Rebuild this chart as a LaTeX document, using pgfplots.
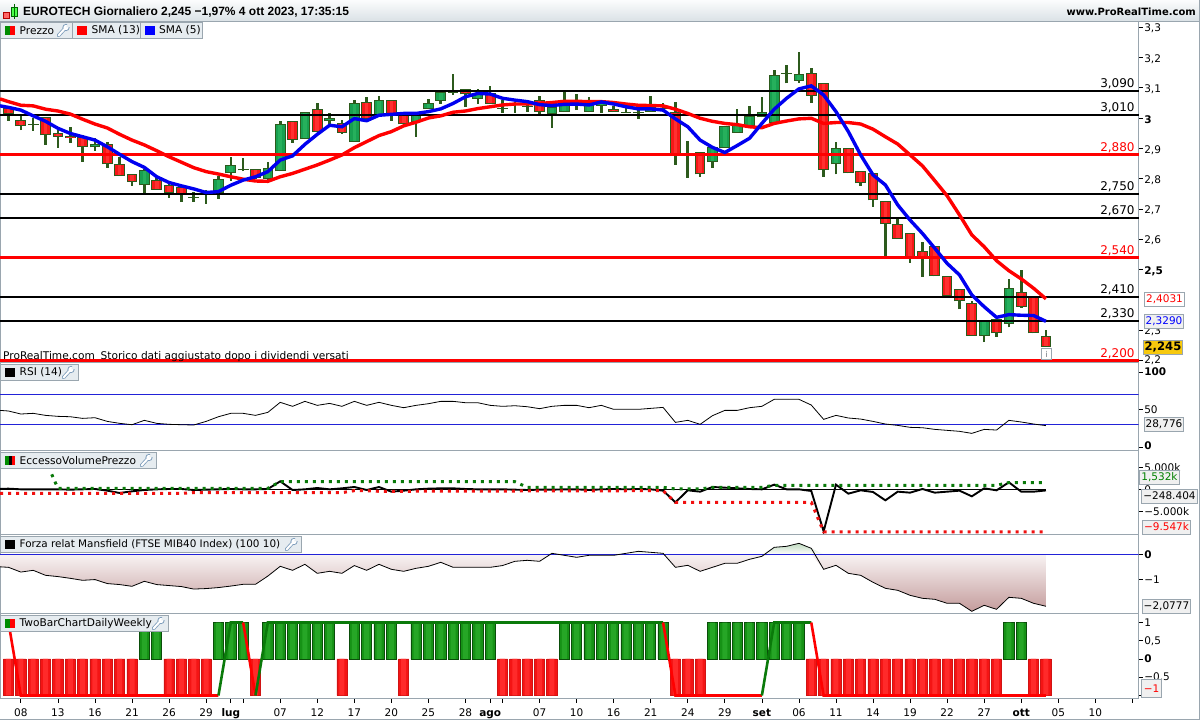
\documentclass[border=0pt]{standalone}
\usepackage{fontspec}
\setmainfont{DejaVu Sans}
\newfontfamily\titlefont{Liberation Sans}
\usepackage{pgfplots}
\usepackage{pgfplotstable}
\pgfplotsset{compat=1.18}
\usetikzlibrary{shadings}

\definecolor{frame}{HTML}{9AA6AF}
\definecolor{tab}{HTML}{E6ECF0}
\definecolor{wrenchblue}{HTML}{7E9DBB}
\definecolor{wick}{HTML}{2C5A1C}
\definecolor{upbody}{HTML}{18A050}
\definecolor{uplight}{HTML}{26B05C}
\definecolor{downbody}{HTML}{F51818}
\definecolor{downlight}{HTML}{FF3030}
\definecolor{linered}{HTML}{FF0000}
\definecolor{lineblue}{HTML}{0000F0}
\definecolor{thinblue}{HTML}{2222D8}
\definecolor{dotgreen}{HTML}{0A7A0A}
\definecolor{dotred}{HTML}{F01010}
\definecolor{gold}{HTML}{F7C90E}
\definecolor{bargreen}{HTML}{169216}
\definecolor{bargreenlight}{HTML}{26A626}
\definecolor{bargreenedge}{HTML}{0A4E0A}
\definecolor{barred}{HTML}{F41414}
\definecolor{barredlight}{HTML}{FF2A2A}
\definecolor{barrededge}{HTML}{D01414}
\definecolor{steplinegreen}{HTML}{0A7A0A}
\definecolor{rosetop}{HTML}{F8F3F3}
\definecolor{rosebottom}{HTML}{C49C9C}
\definecolor{mintop}{HTML}{BFDABF}

\newcommand{\fs}[1]{\fontsize{#1}{#1}\selectfont}

% open high low close, days with close >= open
\pgfplotstableread{
i o h l c
2 2.979 2.999 2.958 2.981
7 2.903 2.933 2.892 2.913
11 2.778 2.832 2.752 2.827
15 2.737 2.757 2.724 2.739
17 2.754 2.809 2.733 2.798
18 2.817 2.872 2.793 2.844
19 2.827 2.868 2.824 2.833
21 2.798 2.854 2.784 2.836
22 2.824 2.989 2.824 2.979
24 2.930 3.019 2.930 3.019
26 2.989 3.015 2.969 2.999
28 2.920 3.059 2.920 3.048
30 3.011 3.073 3.011 3.058
33 2.988 3.021 2.938 3.010
34 3.029 3.063 3.029 3.048
35 3.057 3.086 3.047 3.086
36 3.083 3.145 3.077 3.085
38 3.062 3.095 3.047 3.081
40 3.030 3.059 3.018 3.032
41 3.042 3.053 3.018 3.048
42 3.039 3.054 3.021 3.041
44 3.013 3.048 2.968 3.035
45 3.019 3.086 3.019 3.048
46 3.048 3.079 3.026 3.054
47 3.019 3.068 3.019 3.043
48 3.041 3.059 3.018 3.048
50 3.019 3.048 3.018 3.021
51 3.015 3.032 2.997 3.021
52 3.019 3.073 3.019 3.037
53 3.031 3.048 3.019 3.034
55 2.884 2.924 2.803 2.886
57 2.854 2.903 2.835 2.903
58 2.902 2.974 2.902 2.974
59 2.952 3.029 2.952 2.980
60 2.974 3.040 2.974 3.008
61 3.002 3.068 3.002 3.021
62 2.985 3.158 2.985 3.143
63 3.148 3.175 3.114 3.150
64 3.123 3.217 3.117 3.144
67 2.847 2.920 2.814 2.902
79 2.281 2.333 2.260 2.333
81 2.320 2.469 2.309 2.438
}\candlesup

% days with close < open
\pgfplotstableread{
i o h l c
0 3.032 3.037 2.991 3.012
1 2.992 3.010 2.960 2.973
3 3.002 3.002 2.912 2.943
4 2.952 2.960 2.902 2.938
5 2.941 2.969 2.919 2.934
6 2.936 2.944 2.856 2.903
8 2.913 2.920 2.836 2.847
9 2.847 2.872 2.808 2.808
10 2.814 2.814 2.777 2.788
12 2.794 2.806 2.763 2.763
13 2.778 2.790 2.737 2.754
14 2.773 2.779 2.724 2.747
16 2.759 2.762 2.717 2.754
20 2.833 2.833 2.797 2.801
23 2.989 2.989 2.919 2.928
25 3.029 3.048 2.953 2.953
27 2.982 2.993 2.948 2.952
29 3.052 3.068 2.996 2.996
31 3.058 3.058 2.991 3.010
32 3.012 3.020 2.979 2.979
37 3.097 3.097 3.037 3.078
39 3.081 3.106 3.047 3.047
43 3.058 3.073 3.012 3.019
49 3.029 3.040 3.019 3.019
54 3.021 3.053 2.846 2.880
56 2.887 2.887 2.806 2.814
65 3.147 3.164 3.051 3.073
66 3.117 3.117 2.806 2.828
68 2.902 2.902 2.817 2.817
69 2.826 2.826 2.777 2.784
70 2.817 2.817 2.707 2.728
71 2.727 2.727 2.545 2.650
72 2.649 2.669 2.600 2.600
73 2.619 2.619 2.523 2.540
74 2.560 2.591 2.476 2.540
75 2.579 2.579 2.477 2.477
76 2.477 2.477 2.413 2.413
77 2.435 2.435 2.369 2.395
78 2.388 2.397 2.281 2.281
80 2.336 2.336 2.278 2.289
82 2.427 2.498 2.374 2.377
83 2.410 2.410 2.289 2.289
84 2.282 2.300 2.245 2.245
}\candlesdown

% per day: SMA 13, SMA 5, RSI, EccessoVolumePrezzo (k), Mansfield, TwoBar
\pgfplotstableread{
i sma13 sma5 rsi evp mans bar
-0.688 3.063 3.040 49 100 -0.50 0
0 3.054 3.035 48.2 150 -0.52 -1
1 3.042 3.026 44.2 0 -0.71 -1
2 3.040 3.007 45.1 0 -0.64 -1
3 3.029 2.989 42.4 0 -0.84 -1
4 3.023 2.966 41.1 0 -0.89 -1
5 3.013 2.949 40.6 -75 -0.96 -1
6 2.996 2.938 38.4 0 -1.04 -1
7 2.980 2.927 39.3 75 -1.01 -1
8 2.967 2.905 34.4 -300 -1.17 -1
9 2.946 2.880 31.8 -825 -1.21 -1
10 2.927 2.856 30.0 -450 -1.28 -1
11 2.911 2.837 35.8 -150 -1.08 1
12 2.892 2.806 31.8 0 -1.21 1
13 2.872 2.787 30.5 75 -1.25 -1
14 2.854 2.776 30.0 75 -1.29 -1
15 2.836 2.766 29.6 -150 -1.39 -1
16 2.823 2.754 34.4 -75 -1.37 -1
17 2.815 2.757 40.6 0 -1.33 1
18 2.806 2.778 45.1 75 -1.27 1
19 2.798 2.795 45.1 0 -1.20 1
20 2.792 2.806 42.4 0 -1.20 -1
21 2.791 2.823 46.4 75 -0.87 1
22 2.806 2.861 59.7 1800 -0.48 1
23 2.817 2.875 54.4 -150 -0.64 1
24 2.831 2.913 61.0 0 -0.40 1
25 2.845 2.946 55.7 300 -0.76 1
26 2.861 2.976 58.3 0 -0.68 1
27 2.878 2.971 54.4 225 -0.76 -1
28 2.902 2.998 61.0 525 -0.45 1
29 2.922 2.991 55.7 -150 -0.64 1
30 2.942 3.009 59.7 525 -0.40 1
31 2.955 3.012 55.7 -525 -0.60 1
32 2.974 3.015 52.6 -300 -0.68 -1
33 2.986 3.015 55.7 0 -0.56 1
34 3.000 3.021 57.9 150 -0.48 1
35 3.007 3.030 61.0 225 -0.32 1
36 3.019 3.048 61.0 225 -0.52 1
37 3.023 3.070 59.2 75 -0.52 1
38 3.031 3.081 59.2 0 -0.52 1
39 3.037 3.079 55.7 0 -0.52 1
40 3.043 3.065 54.4 0 -0.45 -1
41 3.046 3.059 55.2 -75 -0.28 -1
42 3.046 3.054 53.9 -150 -0.24 -1
43 3.048 3.044 51.3 -75 -0.28 -1
44 3.051 3.041 54.4 -75 0.04 -1
45 3.055 3.045 55.7 0 -0.04 1
46 3.055 3.046 55.7 0 -0.12 1
47 3.054 3.043 52.6 -150 -0.04 1
48 3.054 3.053 55.7 0 -0.04 1
49 3.051 3.046 50.4 75 -0.04 1
50 3.046 3.037 50.4 0 0.04 1
51 3.042 3.030 50.4 75 0.12 1
52 3.041 3.030 51.7 0 0.08 1
53 3.040 3.026 53.0 -300 0.04 1
54 3.029 2.997 33.1 -2925 -0.52 -1
55 3.015 2.971 35.8 -225 -0.44 -1
56 2.999 2.927 30.5 -525 -0.68 -1
57 2.989 2.903 42.0 525 -0.52 1
58 2.982 2.886 49.0 375 -0.36 1
59 2.978 2.909 49.0 225 -0.36 1
60 2.971 2.933 52.6 75 -0.20 1
61 2.968 2.982 54.4 0 -0.08 1
62 2.982 3.029 63.7 1050 0.28 1
63 2.990 3.065 63.7 0 0.32 1
64 2.997 3.096 63.7 0 0.44 1
65 2.999 3.106 56.1 -375 0.24 -1
66 2.982 3.076 37.1 -9450 -0.60 -1
67 2.985 3.021 42.4 1050 -0.44 -1
68 2.985 2.955 38.9 -975 -0.76 -1
69 2.980 2.878 37.5 -225 -0.84 -1
70 2.963 2.812 34.4 -600 -1.12 -1
71 2.938 2.779 30.9 -2475 -1.36 -1
72 2.914 2.713 29.1 -525 -1.44 -1
73 2.878 2.663 26.5 -750 -1.64 -1
74 2.842 2.619 26.0 75 -1.76 -1
75 2.793 2.570 23.8 -750 -1.80 -1
76 2.743 2.520 22.5 -525 -1.96 -1
77 2.680 2.482 21.2 -300 -1.96 -1
78 2.614 2.416 18.5 -1575 -2.28 -1
79 2.575 2.377 23.8 225 -2.04 -1
80 2.529 2.342 22.9 -225 -2.20 -1
81 2.496 2.351 35.8 1575 -1.72 1
82 2.469 2.349 33.6 -525 -1.76 1
83 2.438 2.348 30.9 -525 -1.96 -1
84 2.4031 2.329 28.776 -248.404 -2.0777 -1
}\daily

% candle bodies and wicks, #1 table, #2 base colour, #3 light colour
\newcommand{\candles}[3]{
  \addplot[wick, line width=2.6pt, quiver={u=0, v=\thisrow{h}-\thisrow{l}}]
    table[x=i, y=l] {#1};
  \addplot[wick, line width=10.7pt, quiver={u=0, v={abs(\thisrow{c}-\thisrow{o})}}]
    table[x=i, y expr={min(\thisrow{o},\thisrow{c})}] {#1};
  \addplot[#2, line width=8.7pt, quiver={u=0, v={max(abs(\thisrow{c}-\thisrow{o})-0.0066,0)}}]
    table[x=i, y expr={min(\thisrow{o},\thisrow{c})+0.0033}] {#1};
  \addplot[#3, line width=3.6pt, quiver={u=0, v={max(abs(\thisrow{c}-\thisrow{o})-0.0066,0)}}]
    table[x=i, y expr={min(\thisrow{o},\thisrow{c})+0.0033}] {#1};
}
\newcommand{\levelnote}[3][black]{
  \node[anchor=south east, inner sep=0pt, xshift=-2.5pt, yshift=1.5pt, font=\fs{12}, text=#1] at (axis cs:91.4,#2) {#3};
}

\pgfplotsset{
  panel/.style={
    scale only axis, width=1138.5pt, anchor=north west,
    xmin=-0.688, xmax=91.5,
    axis line style={draw=frame, line width=1pt},
    xtick=\empty,
    ytick pos=right, yticklabel pos=right,
    tick style={black, line width=.7pt},
    tick align=outside,
    major tick length=4pt,
    y tick label style={font=\fs{10.5}, anchor=west, inner xsep=1.5pt},
    scaled y ticks=false,
  },
}

% the panel label tabs, coordinates are pixels from the top left corner
\newcommand{\wrench}[2]{
  \draw[wrenchblue, line width=3.6pt, line cap=round] (#1,#2+5.5) -- (#1+6,#2-1);
  \fill[wrenchblue] (#1+7.5,#2-2.5) circle (3.6pt);
  \draw[white, line width=2pt, line cap=round] (#1,#2+5.5) -- (#1+6,#2-1);
  \fill[white] (#1+7.5,#2-2.5) circle (2.6pt);
  \fill[tab] (#1+7.7,#2-2.7) -- (#1+9.5,#2-7) -- (#1+13,#2-3.5) -- cycle;
}
\newcommand{\paneltab}[4]{% x0, x1, y0, text
  \draw[frame, fill=tab, line width=.8pt] (#1,#3) rectangle (#2,#3+16.5);
  \node[anchor=west, inner sep=0pt, font=\fs{10.6}] at (#1+19,#3+8.6) {#4};
}
\newcommand{\tag}[5][black]{% colour, x, y, fill, text
  \node[draw=frame, fill=#4, line width=.9pt, text=#1, font=\fs{10.5}, inner xsep=1.5pt, inner ysep=0pt, minimum height=14pt] at (#2,#3) {#5};
}

\begin{document}
\begin{tikzpicture}[x=1pt, y=1pt]
\path[use as bounding box, fill=white] (0,0) rectangle (1200,720);

% prices
\begin{axis}[panel, at={(0pt,699pt)}, height=342pt, ymin=2.1914, ymax=3.3201,
    ytick={2.2,2.3,2.5,2.6,2.7,2.8,2.9,3,3.1,3.2,3.3},
    yticklabels={\raisebox{4pt}{2,2},{2,3},\textbf{2,5},{2,6},{2,7},{2,8},{2,9},\textbf{3},{3,1},{3,2},{3,3}},
    y tick label style={yshift=-1.5pt},
    clip=false]
  \candles{\candlesup}{upbody}{uplight}
  \candles{\candlesdown}{downbody}{downlight}
  \pgfplotsinvokeforeach{3.09,3.01,2.75,2.67,2.41,2.33}{
    \addplot[black, line width=1.9pt] coordinates {(-0.688,#1) (91.5,#1)};
  }
  \pgfplotsinvokeforeach{2.88,2.54,2.2}{
    \addplot[linered, line width=2.6pt] coordinates {(-0.688,#1) (91.5,#1)};
  }
  \addplot[linered, line width=3.4pt] table[x=i, y=sma13] {\daily};
  \addplot[lineblue, line width=3.4pt] table[x=i, y=sma5] {\daily};
  \levelnote{3.09}{3,090}
  \levelnote{3.01}{3,010}
  \levelnote[red]{2.88}{2,880}
  \levelnote{2.75}{2,750}
  \levelnote{2.67}{2,670}
  \levelnote[red]{2.54}{2,540}
  \levelnote{2.41}{2,410}
  \levelnote{2.33}{2,330}
  \levelnote[red]{2.2}{2,200}
\end{axis}

% RSI
\begin{axis}[panel, at={(0pt,357pt)}, height=88pt, ymin=-4.91, ymax=111.95,
    ytick={0,50,100},
    yticklabels={\raisebox{4pt}{\textbf{0}},50,\textbf{100}}]
  \addplot[thinblue, line width=1pt] coordinates {(-0.688,70) (91.5,70)};
  \addplot[thinblue, line width=1pt] coordinates {(-0.688,30) (91.5,30)};
  \addplot[black, line width=.8pt] table[x=i, y=rsi] {\daily};
\end{axis}

% EccessoVolumePrezzo
\begin{axis}[panel, at={(0pt,269pt)}, height=84pt, ymin=-10275, ymax=8625,
    ytick={-5000,0,5000},
    yticklabels={−5.000k,0,5.000k}]
  \addplot[black, line width=.8pt] coordinates {(-0.688,0) (84,0)};
  \addplot[black, line width=1.9pt] table[x=i, y=evp] {\daily};
  \addplot[dotgreen, line width=3pt, dash pattern=on 3pt off 5pt] coordinates {
    (3.5,3375) (4,225) (21,225) (22,1725) (41,1725) (42,450) (53,450) (54,75) (56,75)
    (57,450) (61,450) (62,900) (80,900) (81,1532) (84,1532)};
  \addplot[dotred, line width=3pt, dash pattern=on 3pt off 5pt] coordinates {
    (-0.688,-900) (14,-900) (15,-750) (27,-750) (28,-300) (29,-300) (30,-450) (53,-300)
    (54,-2925) (65,-2925) (66,-9547) (84,-9547)};
\end{axis}

% Forza relativa Mansfield
\begin{axis}[panel, at={(0pt,185pt)}, height=79pt, ymin=-2.387, ymax=0.773,
    ytick={-1,0},
    yticklabels={−1,\textbf{0}}]
  \addplot[draw=none, top color=mintop, bottom color=white]
    table[x=i, y expr={max(\thisrow{mans},0)}] {\daily} -- (axis cs:84,0) -- (axis cs:-0.688,0) -- cycle;
  \addplot[draw=none, top color=rosetop, bottom color=rosebottom]
    table[x=i, y expr={min(\thisrow{mans},0)}] {\daily} -- (axis cs:84,0) -- (axis cs:-0.688,0) -- cycle;
  \addplot[thinblue, line width=1pt] coordinates {(-0.688,0) (91.5,0)};
  \addplot[black, line width=.8pt] table[x=i, y=mans] {\daily};
\end{axis}

% TwoBarChartDailyWeekly
\begin{axis}[panel, at={(0pt,106pt)}, height=85pt, ymin=-1.096, ymax=1.233,
    ytick={-1,-0.5,0,0.5,1},
    yticklabels={,{−0,5},\textbf{0},{0,5},1},
    xtick={1,4,7,10,13,16,18,19,22,25,28,31,34,37,39,40,43,46,49,52,55,58,61,64,67,70,73,76,79,82,85,88,91},
    xticklabels={08,13,16,21,26,29,\textbf{lug},,07,12,17,20,25,28,\textbf{ago},,07,10,16,21,24,29,\textbf{set},06,11,14,19,22,27,\textbf{ott},05,10,},
    x tick label style={font=\fs{10.5}, yshift=-1.5pt, text height=8pt, text depth=2pt},
    xtick pos=bottom, xticklabel pos=bottom]
  \addplot[ybar, bar width=10.2pt, bar shift=0pt, draw=bargreenedge, line width=.7pt, fill=bargreen,
      restrict y to domain=0.5:2]
    table[x=i, y=bar] {\daily};
  \addplot[ybar, bar width=5pt, bar shift=0pt, draw=none, fill=bargreenlight,
      restrict y to domain=0.5:2]
    table[x=i, y=bar] {\daily};
  \addplot[ybar, bar width=10.2pt, bar shift=0pt, draw=barrededge, line width=.7pt, fill=barred,
      restrict y to domain=-2:-0.5]
    table[x=i, y=bar] {\daily};
  \addplot[ybar, bar width=5pt, bar shift=0pt, draw=none, fill=barredlight,
      restrict y to domain=-2:-0.5]
    table[x=i, y=bar] {\daily};
  \addplot[linered, line width=2.6pt] coordinates {(0,1) (1,-1) (17,-1)};
  \addplot[steplinegreen, line width=2.6pt] coordinates {(17,-1) (18,1) (19,1)};
  \addplot[linered, line width=2.6pt] coordinates {(19,1) (20,-1)};
  \addplot[steplinegreen, line width=2.6pt] coordinates {(20,-1) (21,1) (53,1)};
  \addplot[linered, line width=2.6pt] coordinates {(53,1) (54,-1) (61,-1)};
  \addplot[steplinegreen, line width=2.6pt] coordinates {(61,-1) (62,1) (65,1)};
  \addplot[linered, line width=2.6pt] coordinates {(65,1) (66,-1) (84,-1)};
\end{axis}

% window chrome, labels and value tags
\begin{scope}[shift={(0,720)}, y=-1pt]
  \shade[top color=white!85!tab, bottom color=tab!85!frame] (0,0) rectangle (1200,21);
  \draw[frame, line width=.8pt] (0,21) -- (1200,21);
  \draw[frame, line width=1pt] (1199.5,0) -- (1199.5,720);
  \draw[frame, line width=1pt] (0,719.5) -- (1200,719.5);
  \draw[frame, line width=1pt] (0,0) -- (1200,0);
  % candle icon
  \draw[red!70!black, fill=red!60!white, line width=.6pt] (3.5,12) rectangle (9.5,18);
  \draw[green!40!black, fill=green!70!white, line width=.6pt] (11.5,7) rectangle (17.5,16);
  \draw[green!40!black] (14.5,4) -- (14.5,19);
  \node[anchor=west, inner sep=0pt, font=\titlefont\fs{12}\bfseries] at (23,12) {EUROTECH Giornaliero 2,245 −1,97\% 4 ott 2023, 17:35:15};
  \node[anchor=east, inner sep=0pt, font=\fs{10}\bfseries] at (1196,12) {www.ProRealTime.com};

  \paneltab{0.5}{72.5}{22}{Prezzo}
  \fill[green!55!black] (5,26) rectangle (10,35); \fill[red] (10,26) rectangle (15,35);
  \wrench{58.5}{30}
  \paneltab{72.5}{140}{22}{SMA (13)}
  \fill[red] (77,26) rectangle (87,35);
  \paneltab{140}{202.5}{22}{SMA (5)}
  \fill[blue] (145,26) rectangle (155,35);

  \paneltab{0.5}{78}{364}{RSI (14)}
  \fill[black] (5,368) rectangle (15,377);
  \wrench{63.5}{372}
  \paneltab{0.5}{156}{452}{EccessoVolumePrezzo}
  \fill[green!55!black] (5,456) rectangle (8.5,465); \fill[black] (8.5,456) rectangle (11.5,465); \fill[red] (11.5,456) rectangle (15,465);
  \wrench{141.5}{460}
  \paneltab{0.5}{301}{536}{\fs{10.4}Forza relat Mansfield (FTSE MIB40 Index) (100 10)}
  \fill[black] (5,540) rectangle (15,549);
  \wrench{286.5}{544}
  \paneltab{0.5}{168}{615}{TwoBarChartDailyWeekly}
  \fill[green!55!black] (5,619) rectangle (10,628); \fill[red] (10,619) rectangle (15,628);
  \wrench{153.5}{623}

  \node[anchor=west, inner sep=0pt, font=\fs{10.6}] at (3,356.5) {ProRealTime.com\hspace{.55em}Storico dati aggiustato dopo i dividendi versati};
  \draw[frame, fill=white, line width=.6pt] (1041.5,348.5) rectangle (1051.5,359.5);
  \node[font=\fs{8}, text=frame!70!black, inner sep=0pt] at (1046.5,354) {i};

  \tag[red]{1164.5}{299}{white}{2,4031}
  \tag[blue]{1164}{321}{white!94!black}{2,3290}
  \node[draw=frame, fill=gold, line width=.9pt, font=\fs{11.6}\bfseries, inner xsep=1.5pt, inner ysep=2pt] at (1163,347.5) {2,245};
  \tag{1164}{424.7}{white!94!black}{28,776}
  \tag[green!50!black]{1159.5}{477.5}{white!94!black}{1,532k}
  \tag{1169.5}{496}{white!94!black}{−248.404}
  \tag[red]{1166.5}{527}{white!94!black}{−9.547k}
  \tag{1166.5}{606}{white!94!black}{−2,0777}
  \node[draw=frame, fill=white!94!black, line width=.9pt, text=red, font=\fs{10.5}, inner xsep=2pt, inner ysep=0pt, minimum height=18pt] at (1151.5,688.5) {−1};
\end{scope}
\end{tikzpicture}
\end{document}
